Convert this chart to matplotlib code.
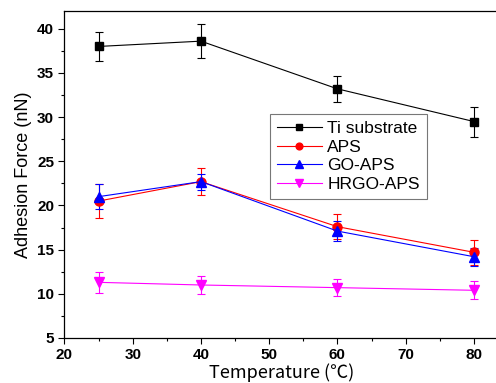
import matplotlib
matplotlib.use("Agg")
import matplotlib.pyplot as plt
from matplotlib.ticker import MultipleLocator

temperature = [25, 40, 60, 80]

ti_force = [38.0, 38.6, 33.2, 29.5]
ti_err = [1.6, 1.9, 1.5, 1.7]

aps_force = [20.5, 22.7, 17.6, 14.7]
aps_err = [1.9, 1.5, 1.4, 1.4]

go_force = [21.0, 22.7, 17.1, 14.2]
go_err = [1.4, 0.9, 1.1, 1.0]

hrgo_force = [11.3, 11.0, 10.7, 10.4]
hrgo_err = [1.2, 1.0, 1.0, 1.0]

x_ticks = [20, 30, 40, 50, 60, 70, 80]
y_ticks = [5, 10, 15, 20, 25, 30, 35, 40]

plt.rcParams["font.family"] = ["Liberation Sans", "DejaVu Sans"]

fig = plt.figure(figsize=(4.96, 3.83), dpi=100)
ax = fig.add_axes([0.130, 0.1175, 0.875, 0.8535])

series = [
    ("Ti substrate", ti_force, ti_err, "black", "s", 6),
    ("APS", aps_force, aps_err, "red", "o", 6.5),
    ("GO-APS", go_force, go_err, "blue", "^", 7),
    ("HRGO-APS", hrgo_force, hrgo_err, "magenta", "v", 7),
]

handles = []
for label, vals, errs, color, marker, ms in series:
    cont = ax.errorbar(temperature, vals, yerr=errs, color=color, marker=marker,
                       markersize=ms, linewidth=0.8, elinewidth=0.8, capsize=3,
                       capthick=0.8, ecolor=color, label=label)
    handles.append(cont[0])

ax.set_xlim(20, 83.6)
ax.set_ylim(5, 42)
ax.set_xticks(x_ticks)
ax.set_yticks(y_ticks)
ax.xaxis.set_minor_locator(MultipleLocator(5))
ax.yaxis.set_minor_locator(MultipleLocator(2.5))
ax.tick_params(which="both", direction="out", top=False, right=False,
               labelsize=11, width=0.8)
ax.tick_params(which="major", length=4)
ax.tick_params(which="minor", length=2.5)
for lbl in ax.get_xticklabels() + ax.get_yticklabels():
    lbl.set_fontweight("bold")

ax.spines["right"].set_visible(False)
for sp in ("left", "bottom", "top"):
    ax.spines[sp].set_linewidth(0.9)

ax.set_xlabel("Temperature (\u2103)", fontsize=13, labelpad=1,
              family=["Noto Sans CJK SC", "Liberation Sans", "DejaVu Sans"])
ax.set_ylabel("Adhesion Force (nN)", fontsize=13, labelpad=4)

leg = ax.legend(handles=handles, labels=[s[0] for s in series],
                loc="upper left", bbox_to_anchor=(0.4735, 0.685),
                fontsize=12.5, frameon=True, fancybox=False, edgecolor="#555555",
                handlelength=2.6, handletextpad=0.3, borderpad=0.4,
                labelspacing=0.2, borderaxespad=0, markerscale=0.75)
leg.get_frame().set_linewidth(0.8)

fig.savefig("out.png", dpi=100)
